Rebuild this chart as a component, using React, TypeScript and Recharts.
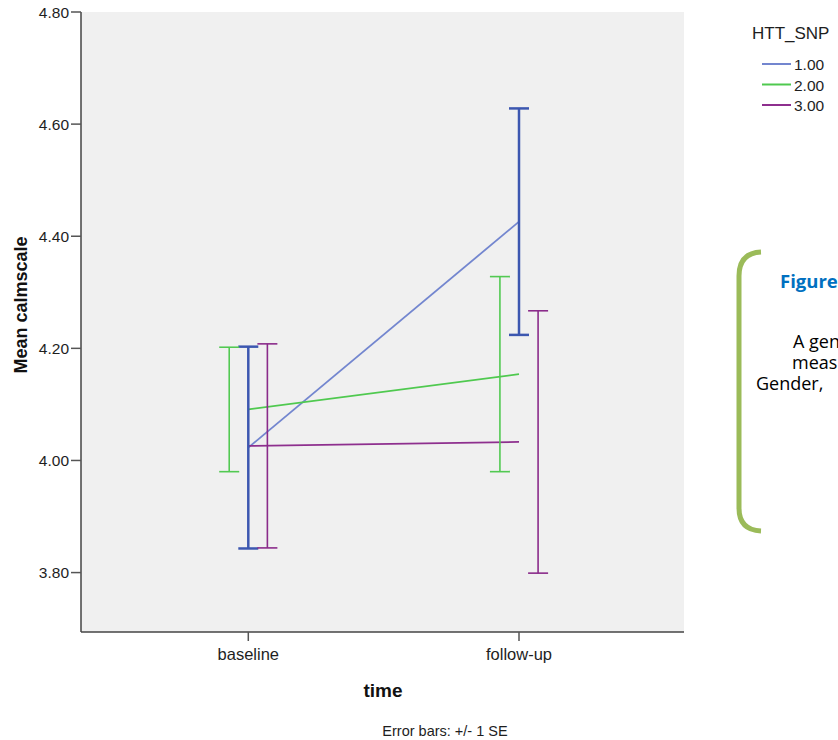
import React from 'react';
import { ComposedChart, Line, XAxis, YAxis, CartesianGrid, ErrorBar } from 'recharts';

// time points
const TIME = ['baseline', 'follow-up'];

// HTT_SNP groups: mean calmscale and +/- 1 SE
const BLUE_MEAN = [4.023, 4.426];
const BLUE_SE = [0.18, 0.202];
const GREEN_MEAN = [4.091, 4.154];
const GREEN_SE = [0.111, 0.174];
const PURPLE_MEAN = [4.026, 4.033];
const PURPLE_SE = [0.182, 0.234];

const Y_TICKS = [3.8, 4.0, 4.2, 4.4, 4.6, 4.8];
const GROUPS = ['1.00', '2.00', '3.00'];

const LINE_COLORS = ['#7386cf', '#4fc94f', '#8e2f8e'];
const BAR_COLORS = ['#3c57b0', '#52c952', '#8a2b8a'];
const BAR_WIDTHS = [2.5, 1.6, 1.6];
const DODGE = [0, -0.0705, 0.0705]; // error bars are side by side

const MEANS = [BLUE_MEAN, GREEN_MEAN, PURPLE_MEAN];
const SES = [BLUE_SE, GREEN_SE, PURPLE_SE];

const X_DOMAIN: [number, number] = [-0.618, 1.6095];
const Y_DOMAIN: [number, number] = [3.694, 4.8];

const font = '"Liberation Sans", Arial, sans-serif';
const noteFont = '"Open Sans", sans-serif';

export default function App() {
  const meanRows = TIME.map((t, i) => ({ x: i, s1: BLUE_MEAN[i], s2: GREEN_MEAN[i], s3: PURPLE_MEAN[i] }));
  const barRows = MEANS.map((m, k) =>
    TIME.map((t, i) => ({ x: i + DODGE[k], m: m[i], e: SES[k][i] }))
  );

  return (
    <div style={{ position: 'absolute', left: 0, top: 0, width: 838, height: 740, overflow: 'hidden', background: '#fff', fontFamily: font }}>
      <ComposedChart width={700} height={740} data={meanRows} margin={{ top: 12, right: 16, bottom: 78, left: 0 }}>
        <CartesianGrid fill="#f0f0f0" horizontal={false} vertical={false} />
        <XAxis
          type="number"
          dataKey="x"
          domain={X_DOMAIN}
          allowDataOverflow
          ticks={[0, 1]}
          tickFormatter={(v: number) => TIME[v]}
          height={30}
          tickSize={9}
          tickMargin={7}
          axisLine={{ stroke: '#444', strokeWidth: 1.5 }}
          tickLine={{ stroke: '#555', strokeWidth: 1.5 }}
          tick={{ fill: '#1e1e1e', fontSize: 16.5, fontFamily: font }}
        />
        <XAxis xAxisId="top" orientation="top" type="number" domain={X_DOMAIN} height={0} tick={false} tickLine={false} axisLine={{ stroke: '#444', strokeWidth: 1.5 }} />
        <YAxis
          type="number"
          domain={Y_DOMAIN}
          allowDataOverflow
          ticks={Y_TICKS}
          tickFormatter={(v: number) => v.toFixed(2)}
          width={81}
          tickSize={10}
          tickMargin={2}
          axisLine={{ stroke: '#444', strokeWidth: 1.5 }}
          tickLine={{ stroke: '#555', strokeWidth: 1.5 }}
          tick={{ fill: '#1e1e1e', fontSize: 15.5, fontFamily: font }}
        />
        <YAxis yAxisId="right" orientation="right" type="number" domain={Y_DOMAIN} width={0} tick={false} tickLine={false} axisLine={{ stroke: '#444', strokeWidth: 1.5 }} />
        <Line dataKey="s1" stroke={LINE_COLORS[0]} strokeWidth={1.8} dot={false} activeDot={false} isAnimationActive={false} />
        <Line dataKey="s2" stroke={LINE_COLORS[1]} strokeWidth={1.8} dot={false} activeDot={false} isAnimationActive={false} />
        <Line dataKey="s3" stroke={LINE_COLORS[2]} strokeWidth={1.8} dot={false} activeDot={false} isAnimationActive={false} />
        {barRows.map((rows, k) => (
          <Line
            key={'bar' + k}
            data={rows}
            dataKey="m"
            stroke="none"
            dot={false}
            activeDot={false}
            legendType="none"
            isAnimationActive={false}
          >
            <ErrorBar dataKey="e" direction="y" width={10} stroke={BAR_COLORS[k]} strokeWidth={BAR_WIDTHS[k]} isAnimationActive={false} />
          </Line>
        ))}
      </ComposedChart>

      {/* axis titles and note */}
      <svg width={838} height={740} style={{ position: 'absolute', left: 0, top: 0, pointerEvents: 'none' }}>
        <text x={0} y={0} transform="translate(27,305) rotate(-90)" textAnchor="middle" fontSize={18} fontWeight="bold" fill="#111" fontFamily={font}>
          Mean calmscale
        </text>
        <text x={383} y={697} textAnchor="middle" fontSize={19} fontWeight="bold" fill="#111" fontFamily={font}>
          time
        </text>
        <text x={445} y={736} textAnchor="middle" fontSize={14.5} fill="#1e1e1e" fontFamily={font}>
          Error bars: +/- 1 SE
        </text>

        {/* legend */}
        <text x={752} y={39} fontSize={17} fill="#1e1e1e" fontFamily={font}>HTT_SNP</text>
        {GROUPS.map((g, i) => (
          <g key={g}>
            <line x1={762} x2={791} y1={64 + i * 20.5} y2={64 + i * 20.5} stroke={LINE_COLORS[i]} strokeWidth={2} />
            <text x={794} y={70 + i * 20.5} fontSize={15.5} fill="#1e1e1e" fontFamily={font}>{g}</text>
          </g>
        ))}

        {/* callout bracket */}
        <path d="M 761 252 Q 739 253 739 276 L 739 508 Q 739 530 761 531" fill="none" stroke="#9bbb59" strokeWidth={5} />
        <text x={780} y={288} fontSize={18.5} fontWeight="bold" fill="#0070c0" fontFamily={noteFont}>Figure</text>
        <text x={793} y={348} fontSize={18} fill="#000" fontFamily={noteFont}>A gen</text>
        <text x={792} y={369} fontSize={18} fill="#000" fontFamily={noteFont}>meas</text>
        <text x={756} y={390} fontSize={18} fill="#000" fontFamily={noteFont}>Gender,</text>
      </svg>
    </div>
  );
}
